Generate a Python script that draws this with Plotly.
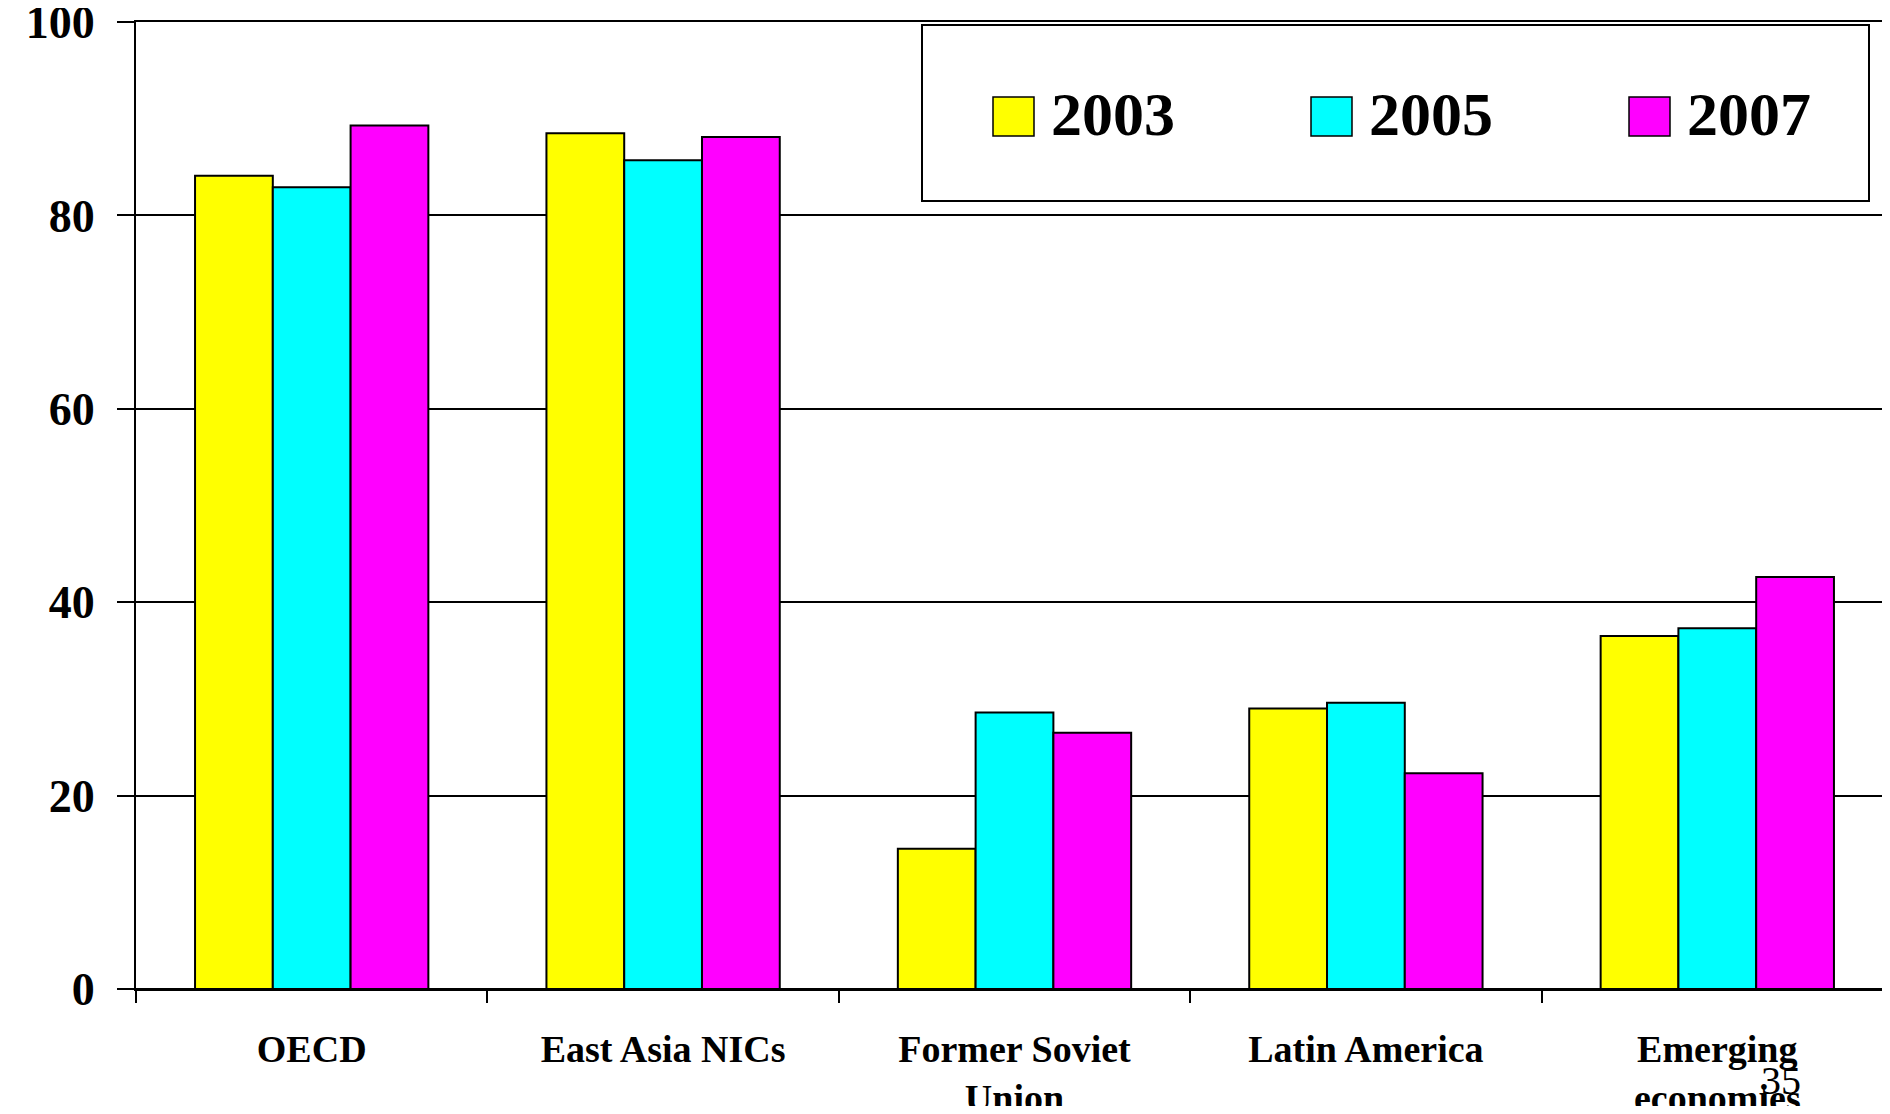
import plotly.graph_objects as go

categories = ["OECD", "East Asia NICs", "Former Soviet<br>Union", "Latin America", "Emerging<br>economies"]
years = ["2003", "2005", "2007"]
values_2003 = [84.1, 88.5, 14.5, 29.0, 36.5]
values_2005 = [82.9, 85.7, 28.6, 29.6, 37.3]
values_2007 = [89.3, 88.1, 26.5, 22.3, 42.6]
series = [values_2003, values_2005, values_2007]
colors = ["#FFFF00", "#00FFFF", "#FF00FF"]
y_ticks = [0, 20, 40, 60, 80, 100]
page_number = "35"

FONT = "Liberation Serif, Times New Roman, serif"

fig = go.Figure()
for name, vals, col in zip(years, series, colors):
    fig.add_trace(go.Bar(
        x=categories, y=vals, name=name,
        marker=dict(color=col, line=dict(color="black", width=2)),
        showlegend=False,
    ))

# page body has an 8px margin; figure sized to fit the 1890x1114 window
OFF = 8
FIG_W, FIG_H = 1890 - 2 * OFF, 1114 - 2 * OFF
# plot area geometry in window px
L, R, T, B = 136, 1882, 22, 989
W, H = R - L, B - T

def px(x):
    return (x - L) / W

def py(y):
    return (B - y) / H

shapes = [dict(type="rect", xref="paper", yref="paper",
               x0=px(922), x1=px(1869), y0=py(201), y1=py(25),
               line=dict(color="black", width=2), fillcolor="white", layer="above")]
annotations = []
for i, (name, col) in enumerate(zip(years, colors)):
    off = 318 * i
    shapes.append(dict(type="rect", xref="paper", yref="paper",
                       x0=px(993 + off), x1=px(1034 + off), y0=py(136), y1=py(97),
                       line=dict(color="black", width=1.5), fillcolor=col, layer="above"))
    annotations.append(dict(xref="paper", yref="paper", x=px(1049 + off), y=py(114),
                            xanchor="left", yanchor="middle", showarrow=False, text=name,
                            font=dict(family=FONT, size=62, color="black", weight="bold")))

annotations.append(dict(xref="paper", yref="paper", x=px(1781), y=py(1080),
                        xanchor="center", yanchor="middle", showarrow=False, text=page_number,
                        font=dict(family=FONT, size=40, color="black")))

fig.update_layout(
    width=FIG_W, height=FIG_H, autosize=False,
    margin=dict(l=L - OFF, r=FIG_W + OFF - R, t=T - OFF, b=FIG_H + OFF - B, pad=0),
    paper_bgcolor="white", plot_bgcolor="white",
    barmode="group", bargap=0.336, bargroupgap=0,
    shapes=shapes, annotations=annotations,
    showlegend=False,
)
fig.update_xaxes(
    range=[-0.5, -0.5 + W / 351.4], tickson="boundaries", ticks="outside", ticklen=12,
    tickwidth=1.5, tickcolor="black", showline=True, linecolor="black", linewidth=2,
    mirror=True,
    showgrid=False, ticklabelstandoff=25, automargin=False,
    tickfont=dict(family=FONT, size=38, color="black", weight="bold"),
)
fig.update_yaxes(
    range=[0, 100], tickvals=y_ticks, ticks="outside", ticklen=17, tickwidth=1.5,
    tickcolor="black", showline=True, linecolor="black", linewidth=2,
    showgrid=True, gridcolor="black", gridwidth=1.5,
    zeroline=True, zerolinecolor="black", zerolinewidth=2,
    ticklabelstandoff=13, automargin=False, ticklabeloverflow="allow",
    tickfont=dict(family=FONT, size=46, color="black", weight="bold"),
)

fig.write_html("out.html")
